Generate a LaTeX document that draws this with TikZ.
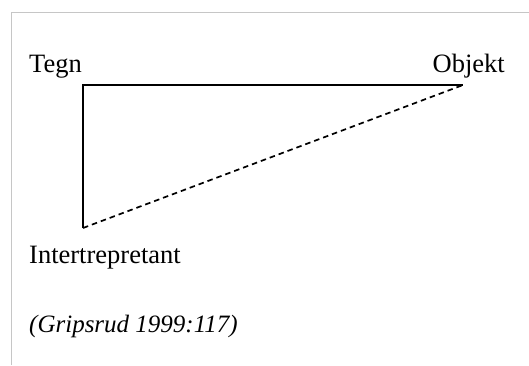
\documentclass[tikz,border=0pt]{standalone}
\usepackage{fontspec}
\setmainfont{Liberation Serif}
\usetikzlibrary{positioning}

\tikzset{
  txtlabel/.style={inner sep=0pt,font=\fontsize{26.5}{30}\selectfont},
  leg/.style={line width=2pt},
  dashleg/.style={line width=1.7pt,dash pattern=on 5.5pt off 4pt},
}

\begin{document}
\begin{tikzpicture}[x=1pt,y=1pt]
        \useasboundingbox (0,0) rectangle (529,-365);
        % light frame
        \draw[gray!45,line width=1pt] (11.5,-365) -- (11.5,-12.5) -- (529,-12.5);

        \coordinate (tegnpt) at (83,-85);
        \coordinate (objpt) at (463,-85);
        \coordinate (intpt) at (83,-228);

        \node[txtlabel,anchor=base west] (tegn) at (29,-72) {Tegn};
        \node[txtlabel,anchor=base east] (objekt) at (505,-72) {Objekt};
        \node[txtlabel,anchor=base west] (interp) at (29,-263) {Intertrepretant};

        \draw[leg] (intpt) -- (tegnpt) -- (objpt);
        \draw[dashleg] (intpt) -- (objpt);

        \node[txtlabel,anchor=base west,font=\fontsize{25}{28}\selectfont\itshape] (kilde) at (29,-332) {(Gripsrud 1999:117)};
      \end{tikzpicture}
\end{document}
